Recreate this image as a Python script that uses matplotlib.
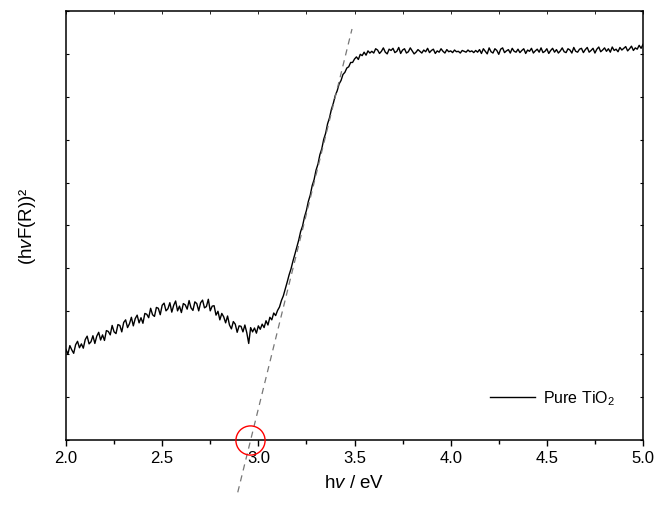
import numpy as np
import matplotlib
matplotlib.use("Agg")
import matplotlib.pyplot as plt
from matplotlib.ticker import MultipleLocator

plt.rcParams['font.family'] = ['Liberation Sans', 'DejaVu Sans']
plt.rcParams['mathtext.fontset'] = 'custom'
plt.rcParams['mathtext.rm'] = 'Liberation Sans'
plt.rcParams['mathtext.it'] = 'Liberation Sans:italic'

# ---- data ----
energy_start = 2.0
energy_end = 5.0
signal = [
    2.11, 2.00, 2.20, 2.10, 2.02, 2.22, 2.30, 2.15, 2.24, 2.14,
    2.34, 2.42, 2.24, 2.29, 2.43, 2.25, 2.42, 2.51, 2.33, 2.45,
    2.32, 2.55, 2.53, 2.45, 2.67, 2.52, 2.48, 2.69, 2.67, 2.52,
    2.74, 2.80, 2.62, 2.71, 2.86, 2.66, 2.83, 2.91, 2.73, 2.85,
    2.72, 2.95, 2.93, 2.85, 3.07, 2.92, 2.88, 3.09, 3.07, 2.92,
    3.14, 3.19, 3.01, 3.06, 3.20, 2.98, 3.14, 3.24, 3.01, 3.12,
    2.97, 3.18, 3.15, 3.05, 3.25, 3.08, 3.02, 3.22, 3.18, 3.01,
    3.20, 3.26, 3.08, 3.11, 3.28, 3.01, 3.12, 3.13, 2.91, 3.00,
    2.80, 2.95, 2.87, 2.73, 2.89, 2.68, 2.59, 2.76, 2.70, 2.51,
    2.66, 2.65, 2.52, 2.68, 2.50, 2.25, 2.62, 2.52, 2.61, 2.49,
    2.66, 2.58, 2.70, 2.62, 2.78, 2.68, 2.86, 2.80, 2.96, 2.90,
    3.02, 3.10, 3.25, 3.36, 3.52, 3.68, 3.85, 3.99, 4.17, 4.33,
    4.50, 4.66, 4.86, 4.99, 5.20, 5.35, 5.56, 5.71, 5.93, 6.07,
    6.29, 6.43, 6.65, 6.79, 7.01, 7.15, 7.37, 7.51, 7.71, 7.85,
    8.03, 8.14, 8.30, 8.38, 8.52, 8.57, 8.67, 8.70, 8.80, 8.80,
    8.88, 8.93, 8.87, 8.99, 8.96, 9.04, 8.97, 9.07, 9.02, 9.06,
    9.02, 9.12, 9.09, 9.01, 9.06, 9.14, 9.04, 9.00, 9.11, 9.08,
    9.13, 9.03, 9.06, 9.15, 9.01, 9.09, 9.12, 9.02, 9.05, 9.14,
    9.07, 9.00, 9.04, 9.10, 9.06, 9.02, 9.09, 9.05, 9.13, 9.03,
    9.08, 9.11, 9.01, 9.07, 9.04, 9.12, 9.06, 9.02, 9.10, 9.05,
    9.07, 9.03, 9.09, 9.05, 9.06, 9.02, 9.08, 9.06, 9.04, 9.09,
    9.05, 9.07, 9.03, 9.08, 9.04, 9.10, 9.01, 9.12, 9.06, 9.00,
    9.14, 9.05, 9.02, 9.12, 9.08, 8.99, 9.11, 9.14, 9.03, 9.07,
    9.10, 9.02, 9.13, 9.06, 9.04, 9.11, 9.03, 9.08, 9.12, 9.01,
    9.09, 9.06, 9.13, 9.02, 9.07, 9.11, 9.04, 9.14, 9.03, 9.06,
    9.12, 9.01, 9.08, 9.13, 9.04, 9.10, 9.02, 9.07, 9.14, 9.05,
    9.03, 9.12, 9.09, 9.02, 9.15, 9.06, 9.04, 9.11, 9.13, 9.03,
    9.10, 9.15, 9.04, 9.08, 9.13, 9.02, 9.11, 9.16, 9.05, 9.09,
    9.14, 9.06, 9.12, 9.04, 9.16, 9.08, 9.11, 9.05, 9.15, 9.09,
    9.13, 9.17, 9.07, 9.12, 9.18, 9.08, 9.14, 9.11, 9.20, 9.13,
    9.22,
]
fit_x = [2.893, 3.487]
fit_y = [-1.22, 9.58]
band_gap = 2.957
series_label = "Pure TiO$_2$"
x_ticks = [2.0, 2.5, 3.0, 3.5, 4.0, 4.5, 5.0]
x_tick_labels = ["2.0", "2.5", "3.0", "3.5", "4.0", "4.5", "5.0"]

energy = np.linspace(energy_start, energy_end, len(signal))

fig = plt.figure(figsize=(6.56, 5.06), dpi=100)
ax = fig.add_axes([0.1006, 0.1285, 0.8796, 0.8478])

ax.plot(energy, signal, color='black', lw=1.0, label=series_label)
ax.plot(fit_x, fit_y, color='#777777', lw=0.9, ls=(0, (5, 4)), clip_on=False)
ax.plot([band_gap], [0], marker='o', ms=21, mfc='none', mec='red', mew=1.0,
        clip_on=False, zorder=5)

ax.set_xlim(2.0, 5.0)
ax.set_ylim(0, 10)
ax.set_xticks(x_ticks)
ax.set_xticklabels(x_tick_labels)
ax.xaxis.set_minor_locator(MultipleLocator(0.25))
ax.yaxis.set_major_locator(MultipleLocator(1))
ax.tick_params(axis='x', which='major', direction='out', length=4.5, width=1.0,
               labelsize=12, top=False, pad=3)
ax.tick_params(axis='x', which='minor', direction='out', length=3, width=1.0, top=False)
ax.tick_params(axis='y', which='major', direction='in', length=2, width=0.8,
               left=True, right=True, labelleft=False)

# top-axis tiny inward ticks
sec = ax.secondary_xaxis('top')
sec.set_xticks(x_ticks)
sec.xaxis.set_minor_locator(MultipleLocator(0.25))
sec.tick_params(which='both', direction='in', length=2, width=0.6, labeltop=False)
sec.spines['top'].set_visible(False)

for s in ax.spines.values():
    s.set_linewidth(1.1)

ax.set_xlabel("h$\\mathit{v}$ / eV", fontsize=13.5, labelpad=6)
ax.set_ylabel("(h$\\mathit{v}$F(R))²", fontsize=13.5, labelpad=20)

leg = ax.legend(loc='center left', bbox_to_anchor=(0.735, 0.098), frameon=False,
                fontsize=11.5, handlelength=2.8, handletextpad=0.5,
                borderpad=0, borderaxespad=0)

fig.savefig("out.png", dpi=100)
